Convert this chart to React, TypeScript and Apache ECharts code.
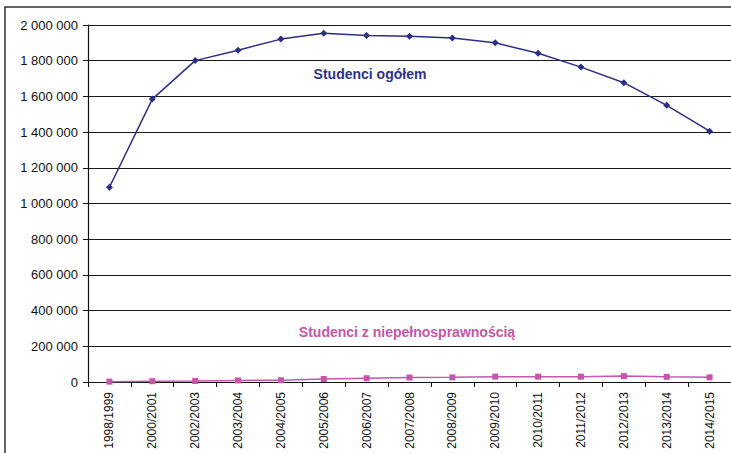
import React, { useEffect, useRef } from "react";
import * as echarts from "echarts";

const categories = [
  "1998/1999", "2000/2001", "2002/2003", "2003/2004", "2004/2005",
  "2005/2006", "2006/2007", "2007/2008", "2008/2009", "2009/2010",
  "2010/2011", "2011/2012", "2012/2013", "2013/2014", "2014/2015",
];
const studentsTotal = [
  1091000, 1584800, 1800500, 1858700, 1921000,
  1953800, 1941400, 1937400, 1927800, 1900000,
  1841300, 1764100, 1676900, 1549900, 1405100,
];
const studentsDisabled = [
  2000, 4500, 5500, 9000, 10000,
  17000, 21000, 25000, 26000, 30000,
  30000, 30000, 33000, 29000, 26000,
];
const yTicks = { min: 0, max: 2000000, interval: 200000 };
const seriesNames = ["Studenci ogółem", "Studenci z niepełnosprawnością"];

const fmt = (v: number) => String(v).replace(/\B(?=(\d{3})+(?!\d))/g, " ");

export default function App() {
  const ref = useRef<HTMLDivElement>(null);
  useEffect(() => {
    if (!ref.current) return;
    const chart = echarts.init(ref.current, null, { renderer: "svg" });
    chart.setOption({
      animation: false,
      backgroundColor: "#ffffff",
      textStyle: { fontFamily: "Liberation Sans, Arial, sans-serif" },
      grid: {
        left: 88, top: 25, right: 0, bottom: 71,
        containLabel: false, outerBoundsMode: "none",
      },
      xAxis: {
        type: "category",
        data: categories,
        boundaryGap: true,
        axisLine: { lineStyle: { color: "#111", width: 1.2 } },
        axisTick: { show: true, length: 5, alignWithLabel: false, lineStyle: { color: "#111" } },
        axisLabel: { rotate: 90, color: "#111", fontSize: 12, margin: 10, interval: 0 },
        splitLine: { show: false },
      },
      yAxis: {
        type: "value",
        min: yTicks.min,
        max: yTicks.max,
        interval: yTicks.interval,
        axisLine: { show: true, lineStyle: { color: "#111", width: 1.2 } },
        axisTick: { show: true, length: 5, lineStyle: { color: "#111" } },
        axisLabel: { color: "#111", fontSize: 13, margin: 10, formatter: (v: number) => fmt(v) },
        splitLine: { show: true, lineStyle: { color: "#1a1a1a", width: 1.2 } },
      },
      series: [
        {
          name: seriesNames[0],
          type: "line",
          data: studentsTotal,
          symbol: "diamond",
          symbolSize: 7,
          lineStyle: { color: "#2b2e85", width: 1.5 },
          itemStyle: { color: "#2b2e85" },
        },
        {
          name: seriesNames[1],
          type: "line",
          data: studentsDisabled,
          symbol: "rect",
          symbolSize: 6,
          lineStyle: { color: "#c456ab", width: 1.5 },
          itemStyle: { color: "#c456ab" },
        },
      ],
      graphic: [
        {
          type: "polyline",
          shape: { points: [[5, 460], [5, 7], [740, 7]] },
          style: { stroke: "#333", lineWidth: 1.5, fill: "none" },
          z: 10,
        },
        {
          type: "text",
          x: 370,
          y: 74,
          style: {
            text: seriesNames[0],
            fill: "#2e3289",
            font: "bold 14px Liberation Sans, Arial, sans-serif",
            align: "center",
            verticalAlign: "middle",
          },
        },
        {
          type: "text",
          x: 407,
          y: 332,
          style: {
            text: seriesNames[1],
            fill: "#c456ab",
            font: "bold 14px Liberation Sans, Arial, sans-serif",
            align: "center",
            verticalAlign: "middle",
          },
        },
      ],
    });
    return () => chart.dispose();
  }, []);
  return (
    <div
      ref={ref}
      style={{ position: "absolute", left: 0, top: 0, width: 731, height: 453 }}
    />
  );
}
